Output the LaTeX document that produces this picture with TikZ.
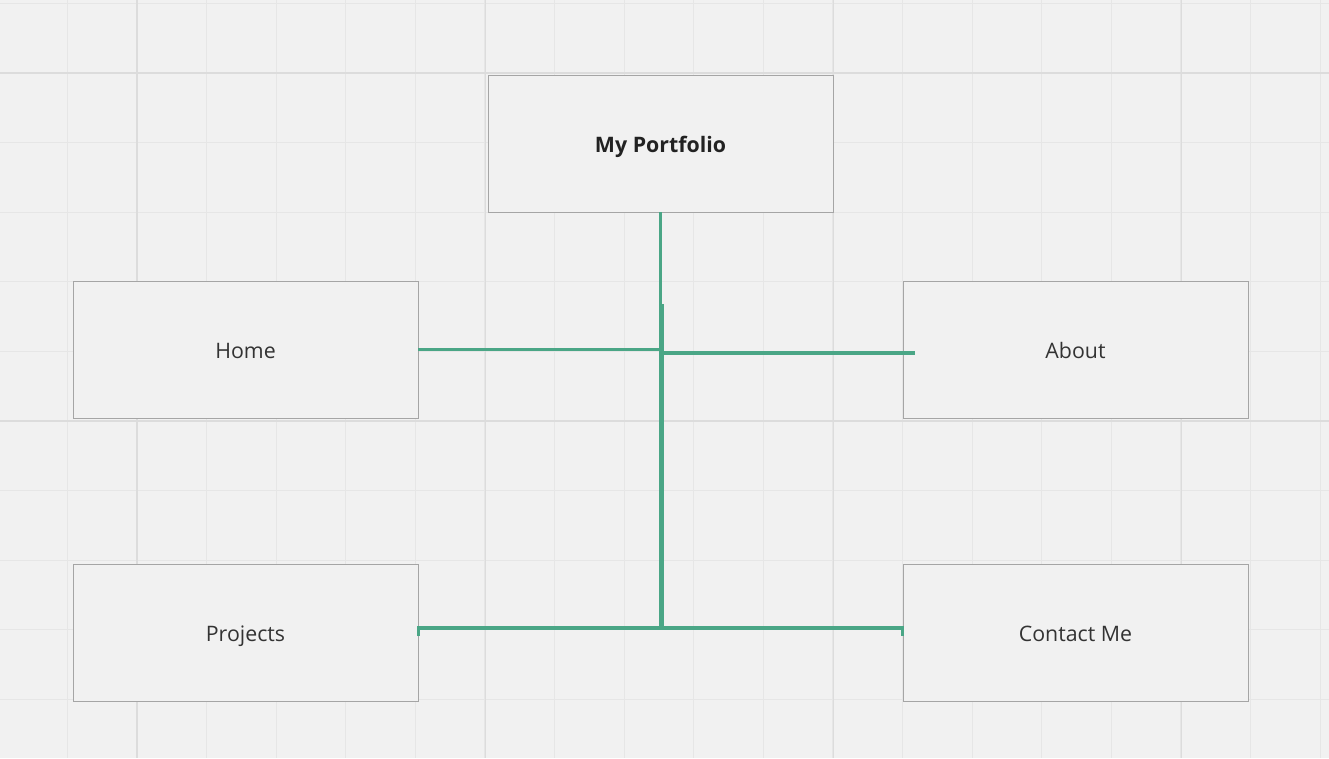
\documentclass[tikz,border=0pt]{standalone}
\usepackage{fontspec}
\setmainfont{Open Sans}
\definecolor{bg}{RGB}{241,241,241}
\definecolor{gridminor}{RGB}{230,230,230}
\definecolor{gridmajor}{RGB}{220,220,220}
\definecolor{boxline}{RGB}{165,165,165}
\definecolor{conncol}{RGB}{74,166,134}
\definecolor{txt}{RGB}{51,51,51}
\tikzset{
  pagebox/.style={draw=boxline, line width=0.7pt, fill=bg, rectangle,
    minimum width=258.75pt, minimum height=102.75pt, inner sep=0pt,
    text height=12.8pt, text depth=0pt,
    font=\fontsize{16pt}{19pt}\selectfont, text=txt},
  conn/.style={draw=conncol, line width=2.6pt},
  minorline/.style={draw=gridminor, line width=0.8pt},
  majorline/.style={draw=gridmajor, line width=1.4pt},
}
\begin{document}
\begin{tikzpicture}[x=0.75pt,y=-0.75pt]
\fill[bg] (0,0) rectangle (1329,758);
\useasboundingbox (0,0) rectangle (1329,758);
% grid
\foreach \k in {-1,...,17}{
  \pgfmathsetmacro\xx{137+69.6*\k}
  \draw[minorline] (\xx,0) -- (\xx,758);
}
\foreach \k in {-1,...,9}{
  \pgfmathsetmacro\yy{73+69.6*\k}
  \draw[minorline] (0,\yy) -- (1329,\yy);
}
\foreach \xx in {137,485.5,833.5,1181.5}{
  \draw[majorline] (\xx,0) -- (\xx,758);
}
\foreach \yy in {73,421}{
  \draw[majorline] (0,\yy) -- (1329,\yy);
}
% nodes
\node[pagebox, font=\fontsize{16pt}{19pt}\selectfont\bfseries, text={rgb,255:red,34;green,34;blue,34}] (P) at (660.5,143.5) {My Portfolio};
\node[pagebox] (H) at (245.5,349.5) {Home};
\node[pagebox] (A) at (1075.5,349.5) {About};
\node[pagebox] (Pr) at (245.5,632.5) {Projects};
\node[pagebox] (C) at (1075.5,632.5) {Contact Me};
% helper coordinates
\coordinate (bar) at (660,628);
\coordinate (tick) at (0,636);
\coordinate (j1) at (662.5,304);
\coordinate (j2) at (662.5,628);
\coordinate (a1) at (663,353);
\coordinate (a2) at (915,353);
% connectors
\draw[conn] (P.south) -- (P.south |- bar);
\draw[conn] (j1) -- (j2);
\draw[conn] (H.east) -- (H.east -| P.south);
\draw[conn] (a1) -- (a2);
\draw[conn] (Pr.east |- tick) -- (Pr.east |- bar) -- (C.west |- bar) -- (C.west |- tick);
\end{tikzpicture}
\end{document}
